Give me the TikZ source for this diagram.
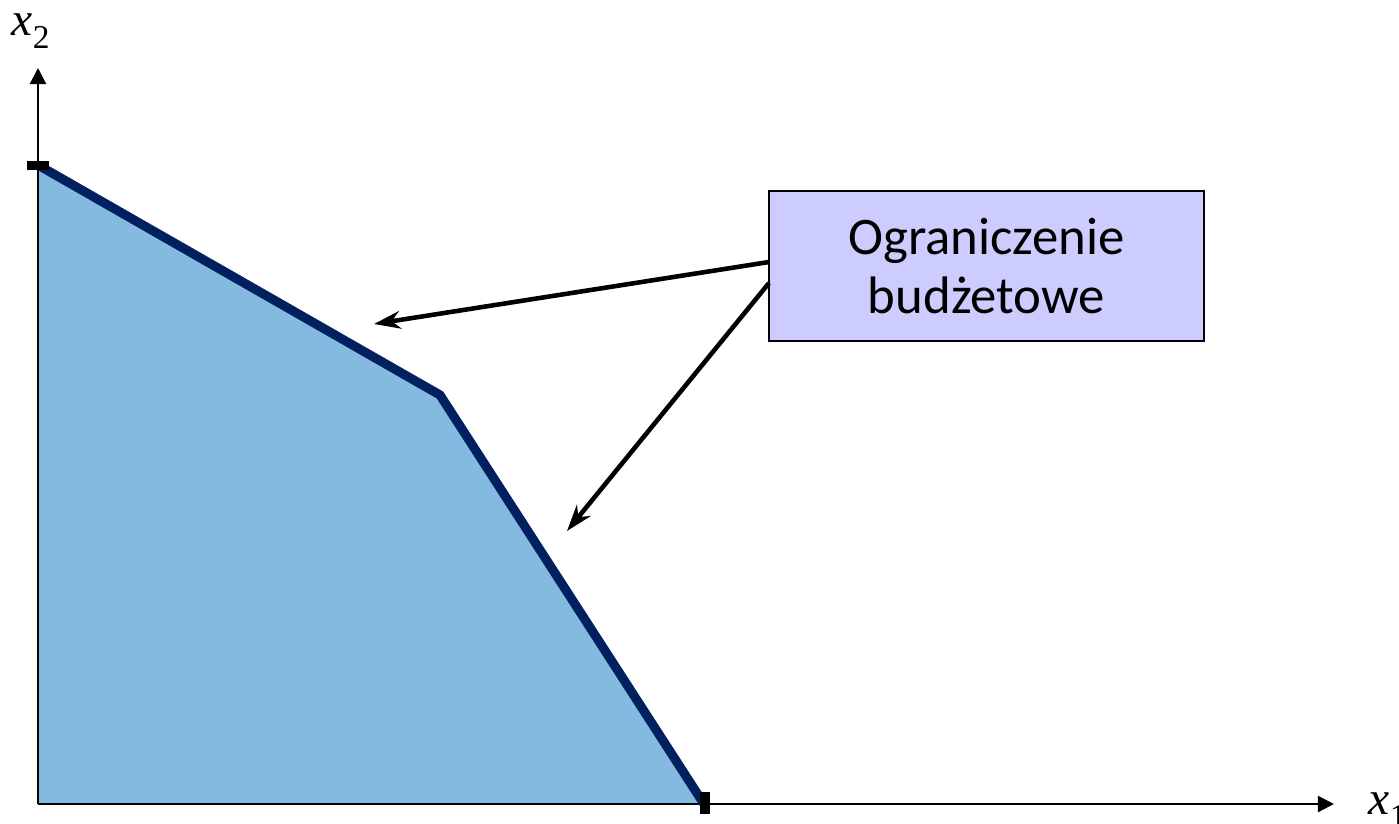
\documentclass[tikz,border=0pt]{standalone}
\usepackage{fontspec}
\setmainfont{Carlito}
\newfontfamily\axisfont{Liberation Serif}
\usetikzlibrary{arrows.meta}
\definecolor{regionblue}{HTML}{85BAE0}
\definecolor{budgetnavy}{HTML}{002060}
\definecolor{boxlilac}{HTML}{CCCCFF}
\tikzset{
  axisline/.style={line width=0.6pt,-{Triangle[length=4.6pt,width=4.6pt]}},
  budgetline/.style={line width=2.6pt,draw=budgetnavy,line join=miter},
  tickmark/.style={fill=black,draw=none},
  callout/.style={line width=1.3pt,-{Stealth[length=7.5pt,width=5pt,inset=2.4pt]}},
  labelbox/.style={draw=black,line width=0.5pt,fill=boxlilac,minimum width=4.35cm,minimum height=1.5cm,align=center,inner sep=0pt,font=\fontsize{15}{16.8}\selectfont},
  axislabel/.style={font=\axisfont\fontsize{13.5}{16}\selectfont,inner sep=0pt}
}
\begin{document}
\begin{tikzpicture}[x=0.01cm,y=-0.01cm]
\useasboundingbox (0,0) rectangle (1399,823);
% points
\coordinate (O) at (38,804);
\coordinate (A) at (38,165);
\coordinate (K) at (440,395);
\coordinate (B) at (704,804);
\coordinate (ytip) at (38,68);
\coordinate (xtip) at (1334,804);
% feasible region
\fill[regionblue] (O) -- (A) -- (K) -- (B) -- cycle;
% axes
\draw[axisline] (O) -- (ytip);
\draw[axisline] (O) -- (xtip);
% budget line
\draw[budgetline] (A) -- (K) -- (B);
% ticks
\fill[tickmark] (27,161) rectangle (49,170);
\fill[tickmark] (700,792) rectangle (710,814);
% axis labels
\node[axislabel,anchor=base west] (ylab) at (11,35) {\itshape x\raisebox{-0.28em}{\upshape\fontsize{9.5}{11}\selectfont 2}};
\node[axislabel,anchor=base west] (xlab) at (1368,814) {\itshape x\raisebox{-0.28em}{\upshape\fontsize{9.5}{11}\selectfont 1}};
% label box
\node[labelbox] (box) at (986.5,266) {Ograniczenie\\budżetowe};
\coordinate (s1) at (769,262);
\coordinate (e1) at (374,324);
\coordinate (s2) at (769,283);
\coordinate (e2) at (567,531);
\draw[callout] (s1) -- (e1);
\draw[callout] (s2) -- (e2);
\end{tikzpicture}
\end{document}
